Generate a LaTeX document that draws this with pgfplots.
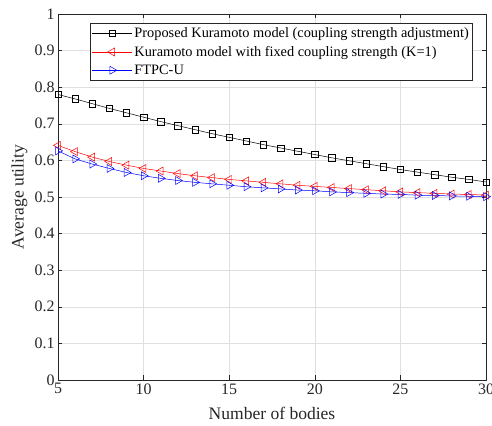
\documentclass[border=0pt]{standalone}
\usepackage{fontspec}
\setmainfont{Liberation Serif}
\usepackage{pgfplots}
\pgfplotsset{compat=1.18}
\definecolor{gridc}{RGB}{223,223,223}
\definecolor{axc}{RGB}{38,38,38}
\begin{document}
\begin{tikzpicture}
\useasboundingbox (-58bp,-46bp) rectangle (434bp,380bp);
\begin{axis}[
  scale only axis,
  width=428bp, height=366bp,
  at={(0,0)}, anchor=south west,
  xmin=5, xmax=30, ymin=0, ymax=1,
  xtick={5,10,15,20,25,30},
  ytick={0,0.1,0.2,0.3,0.4,0.5,0.6,0.7,0.8,0.9,1},
  yticklabels={0,0.1,0.2,0.3,0.4,0.5,0.6,0.7,0.8,0.9,1},
  /pgf/number format/assume math mode=true,
  tick label style={font=\fontsize{16}{18}\selectfont, color=axc},
  tick align=inside,
  tick style={color=axc, line width=0.5pt},
  major tick length=4.5bp,
  axis line style={color=axc, line width=0.5pt},
  grid=major,
  major grid style={color=gridc, line width=0.5pt},
  xlabel={Number of bodies},
  ylabel={Average utility},
  label style={font=\fontsize{17.6}{20}\selectfont, color=axc},
  xlabel style={at={(axis description cs:0.5,-0.09)}, anchor=center},
  ylabel style={at={(axis description cs:-0.09,0.5)}, anchor=center},
  legend style={at={(0.9696,0.9754)}, anchor=north east,
    font=\fontsize{14.4}{17}\selectfont, draw=axc, line width=0.5pt,
    row sep=3bp, inner xsep=2bp, inner ysep=2.5bp,
    legend cell align=left},
  legend image code/.code={\draw[mark repeat=2,mark phase=2] plot coordinates {(0bp,0bp) (20bp,0bp) (40bp,0bp)};},
]
\addplot[black, line width=0.5pt, mark=square, mark size=3.2bp, mark options={solid}] coordinates {
(5,0.780) (6,0.768) (7,0.755) (8,0.742) (9,0.730) (10,0.718) (11,0.706) (12,0.695) (13,0.684) (14,0.673)
(15,0.663) (16,0.653) (17,0.643) (18,0.634) (19,0.625) (20,0.616) (21,0.607) (22,0.599) (23,0.591) (24,0.583)
(25,0.575) (26,0.568) (27,0.561) (28,0.554) (29,0.548) (30,0.541)};
\addlegendentry{Proposed Kuramoto model (coupling strength adjustment)}
\addplot[red, line width=0.5pt, mark=triangle, mark size=4.6bp, mark options={solid, rotate=90}] coordinates {
(5,0.641) (6,0.624) (7,0.609) (8,0.597) (9,0.587) (10,0.578) (11,0.571) (12,0.564) (13,0.558) (14,0.553)
(15,0.548) (16,0.544) (17,0.540) (18,0.536) (19,0.532) (20,0.529) (21,0.526) (22,0.523) (23,0.520) (24,0.517)
(25,0.514) (26,0.512) (27,0.510) (28,0.508) (29,0.507) (30,0.505)};
\addlegendentry{Kuramoto model with fixed coupling strength (K=1)}
\addplot[blue, line width=0.5pt, mark=triangle, mark size=4.6bp, mark options={solid, rotate=-90}] coordinates {
(5,0.626) (6,0.604) (7,0.590) (8,0.578) (9,0.567) (10,0.558) (11,0.551) (12,0.545) (13,0.540) (14,0.536)
(15,0.532) (16,0.528) (17,0.525) (18,0.522) (19,0.519) (20,0.517) (21,0.514) (22,0.512) (23,0.510) (24,0.508)
(25,0.507) (26,0.505) (27,0.504) (28,0.503) (29,0.502) (30,0.501)};
\addlegendentry{FTPC-U}
\end{axis}
\end{tikzpicture}
\end{document}
